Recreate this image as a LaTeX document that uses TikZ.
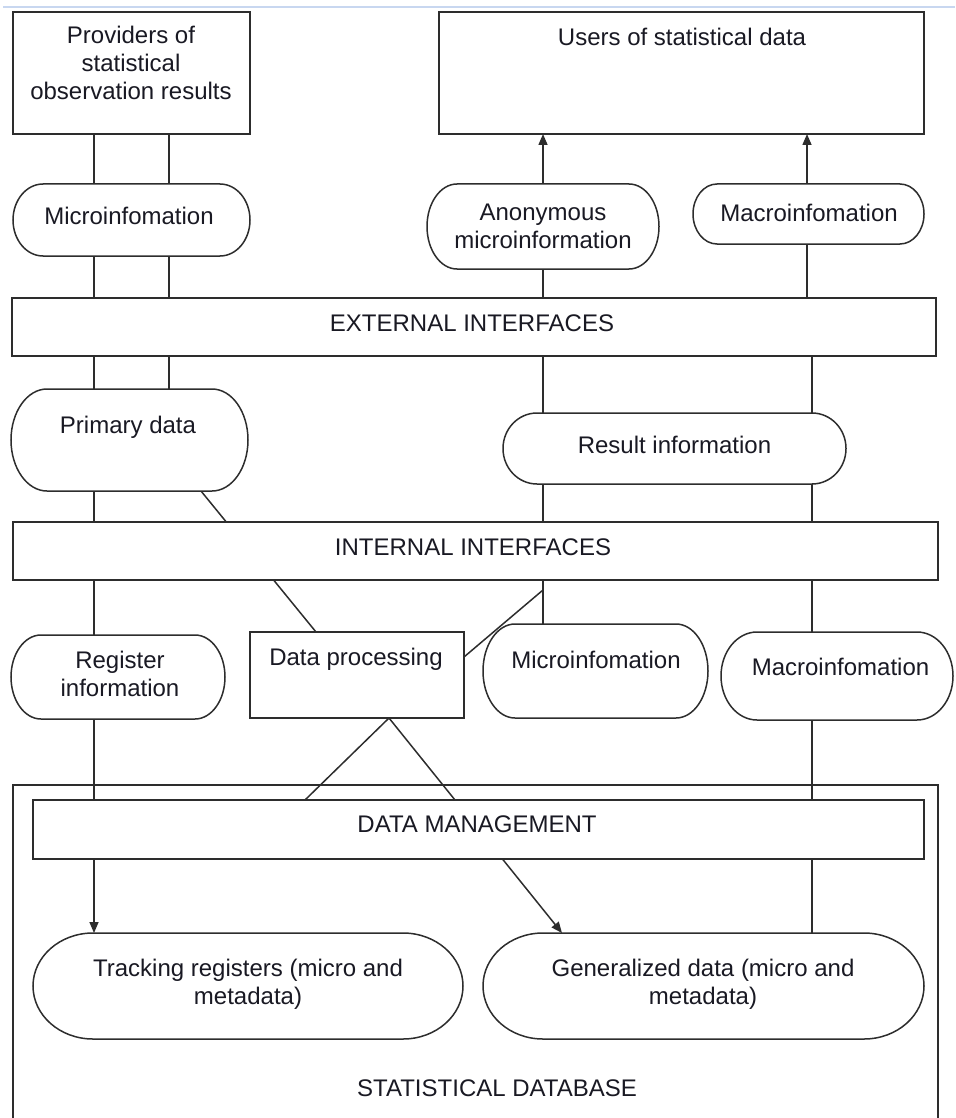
\documentclass[tikz,border=0pt]{standalone}
\usepackage{fontspec}
\setmainfont{Liberation Sans}
\usetikzlibrary{arrows.meta}
\pgfdeclarelayer{background}
\pgfsetlayers{background,main}
\definecolor{linec}{RGB}{45,45,45}
\definecolor{textc}{RGB}{25,25,35}
\definecolor{topblue}{RGB}{200,215,240}
\newcommand\pilloutline[3]{%
  \draw[draw=linec,line width=1.5pt,fill=white]
    ([xshift=#2]#1.north west) -- ([xshift=-#2]#1.north east)
    arc[start angle=90,end angle=-90,x radius=#2,y radius=#3]
    -- ([xshift=#2]#1.south west)
    arc[start angle=270,end angle=90,x radius=#2,y radius=#3] -- cycle;}
\begin{document}
\begin{tikzpicture}[x=1pt,y=-1pt,
  ln/.style={draw=linec,line width=1.5pt},
  box/.style={rectangle,draw=linec,line width=1.5pt,fill=white,inner sep=0pt,outer sep=0pt},
  pillbox/.style={rectangle,draw=none,inner sep=0pt,outer sep=0pt},
  sz/.style 2 args={minimum width=#1pt,minimum height=#2pt},
  txt/.style={font=\fontsize{24}{28}\selectfont,align=center,inner sep=0pt,text=textc},
  arr/.style={ln,-{Triangle[length=11pt,width=9pt]}}]
\useasboundingbox (0,0) rectangle (955,1118);
\draw[topblue,line width=2pt] (3,7) -- (955,7);

% rectangular boxes
\node[box,sz={237}{122}] (prov) at (131.5,73) {};
\node[box,sz={485}{122}] (users) at (681.5,73) {};
\node[box,sz={924}{58}] (ext) at (474,327) {};
\node[box,sz={925}{58}] (int) at (475.5,551) {};
\node[box,sz={214}{86}] (dp) at (357,675) {};
\node[pillbox,sz={925}{334}] (sdb) at (475.5,952) {};
\draw[ln] (sdb.south west) -- (sdb.north west) -- (sdb.north east) -- (sdb.south east);
\node[box,sz={891}{59}] (dm) at (478.5,829.5) {};

% pill shapes
\node[pillbox,sz={237}{72}] (micro1) at (131.5,220) {};
\node[pillbox,sz={232}{85}] (anon) at (543,226.5) {};
\node[pillbox,sz={231}{60}] (macro1) at (808.5,214) {};
\node[pillbox,sz={237}{102}] (prim) at (129.5,440) {};
\node[pillbox,sz={343}{71}] (res) at (674.5,448.5) {};
\node[pillbox,sz={214}{84}] (reg) at (118,677) {};
\node[pillbox,sz={225}{94}] (micro2) at (595.5,671) {};
\node[pillbox,sz={232}{88}] (macro2) at (837,676) {};
\node[pillbox,sz={430}{106}] (track) at (248,986) {};
\node[pillbox,sz={441}{106}] (gen) at (703.5,986) {};
\pilloutline{micro1}{30pt}{36pt}
\pilloutline{anon}{30pt}{42.5pt}
\pilloutline{macro1}{24pt}{30pt}
\pilloutline{prim}{36pt}{51pt}
\pilloutline{res}{34pt}{35.5pt}
\pilloutline{reg}{30pt}{42pt}
\pilloutline{micro2}{32pt}{47pt}
\pilloutline{macro2}{36pt}{44pt}
\pilloutline{track}{60pt}{53pt}
\pilloutline{gen}{60pt}{53pt}

% texts
\node[txt] (tprov) at (131,62.5) {Providers of\\statistical\\observation results};
\node[txt] (tusers) at (682,36.5) {Users of statistical data};
\node[txt] (tmicro1) at (129,216) {Microinfomation};
\node[txt] (tanon) at (543,226) {Anonymous\\microinformation};
\node[txt] (tmacro1) at (809,212.5) {Macroinfomation};
\node[txt] (text) at (472,323.5) {EXTERNAL INTERFACES};
\node[txt] (tprim) at (128,427) {Primary data};
\node[txt] (tres) at (674.5,444.5) {Result information};
\node[txt] (tint) at (473,547.5) {INTERNAL INTERFACES};
\node[txt] (treg) at (120,674) {Register\\information};
\node[txt] (tdp) at (356,659) {Data processing};
\node[txt] (tmicro2) at (596,659.5) {Microinfomation};
\node[txt] (tmacro2) at (840.5,666.5) {Macroinfomation};
\node[txt] (tdm) at (477,824.5) {DATA MANAGEMENT};
\node[txt] (ttrack) at (248,984) {Tracking registers (micro and\\metadata)};
\node[txt] (tgen) at (703,984) {Generalized data (micro and\\metadata)};
\node[txt] (tsdb) at (497,1088.5) {STATISTICAL DATABASE};

% x helpers
\coordinate (xa) at (94,0);
\coordinate (xb) at (169,0);
\coordinate (xc) at (543,0);
\coordinate (xd) at (807,0);
\coordinate (xe) at (812,0);
\coordinate (xf) at (201,0);
\coordinate (xg) at (316,0);
\coordinate (xh) at (389,0);
\coordinate (xi) at (305,0);
\coordinate (xj) at (562,0);
\coordinate (jn) at (543,590);

\begin{pgfonlayer}{background}
\draw[ln] (prov.south -| xa) -- (micro1.north -| xa);
\draw[ln] (prov.south -| xb) -- (micro1.north -| xb);
\draw[ln] (micro1.south -| xa) -- (ext.north -| xa);
\draw[ln] (micro1.south -| xb) -- (ext.north -| xb);
\draw[ln] (ext.south -| xa) -- (prim.north -| xa);
\draw[ln] (ext.south -| xb) -- (prim.north -| xb);
\draw[arr] (anon.north -| xc) -- (users.south -| xc);
\draw[arr] (macro1.north -| xd) -- (users.south -| xd);
\draw[ln] (ext.north -| xc) -- (anon.south -| xc);
\draw[ln] (ext.north -| xd) -- (macro1.south -| xd);
\draw[ln] (ext.south -| xc) -- (res.north -| xc);
\draw[ln] (ext.south -| xe) -- (res.north -| xe);
\draw[ln] (res.south -| xc) -- (int.north -| xc);
\draw[ln] (res.south -| xe) -- (int.north -| xe);
\draw[ln] (prim.south -| xa) -- (int.north -| xa);
\draw[ln] (prim.south -| xf) -- (dp.north -| xg);
\draw[ln] (int.south -| xa) -- (reg.north -| xa);
\draw[ln] (int.south -| xc) -- (micro2.north -| xc);
\draw[ln] (int.south -| xe) -- (macro2.north -| xe);
\draw[ln] ([yshift=-25pt]dp.north east) -- (jn);
\draw[ln] (reg.south -| xa) -- (dm.north -| xa);
\draw[arr] (dm.south -| xa) -- (track.north -| xa);
\draw[ln] (dp.south -| xh) -- (dm.north -| xi);
\draw[arr] (dp.south -| xh) -- (gen.north -| xj);
\draw[ln] (macro2.south -| xe) -- (gen.north -| xe);
\end{pgfonlayer}
\end{tikzpicture}
\end{document}
